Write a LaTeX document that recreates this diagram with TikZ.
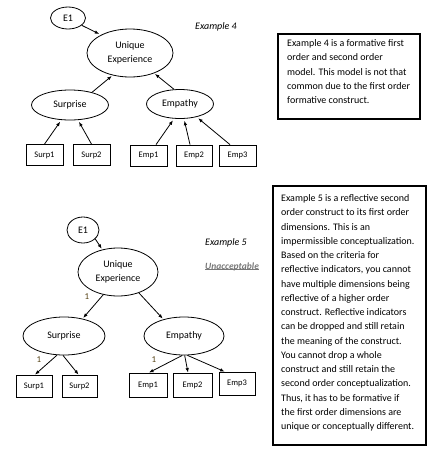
\documentclass[tikz,border=0pt]{standalone}
\usepackage{fontspec}
\setmainfont{Carlito}
\usetikzlibrary{arrows.meta,shapes.geometric,calc}
\definecolor{labcol}{RGB}{85,65,20}
\definecolor{grayt}{RGB}{120,120,120}
\tikzset{
  lat/.style={draw, ellipse, line width=0.8pt, inner sep=0pt, align=center, font=\fontsize{10}{13.5}\selectfont},
  ind/.style={draw, rectangle, line width=0.8pt, inner sep=0pt, font=\fontsize{8.5}{10}\selectfont},
  arr/.style={line width=0.8pt, -{Latex[length=4.5pt,width=3.5pt]}},
  onelab/.style={font=\fontsize{9}{10}\selectfont, text=labcol, inner sep=0pt},
  exlab/.style={font=\fontsize{10}{12}\selectfont\itshape, inner sep=0pt, anchor=west},
  textbox/.style={draw, line width=1.3pt, inner sep=0pt},
  boxtext/.style={anchor=north west, inner sep=0pt, align=left, font=\fontsize{10}{14.3}\selectfont},
}
\begin{document}
\begin{tikzpicture}[x=1pt,y=-1pt]
\useasboundingbox (0,0) rectangle (438,451);
% ---------- Example 4 ----------
\node[lat, minimum width=35pt, minimum height=22pt] (e1a) at (68,18) {E1};
\node[lat, minimum width=86pt, minimum height=48pt] (ua) at (130,53) {Unique\\Experience};
\node[lat, minimum width=77pt, minimum height=30pt] (sa) at (70,105) {Surprise};
\node[lat, minimum width=67pt, minimum height=29pt] (ea) at (180,104) {Empathy};
\node[ind, minimum width=37pt, minimum height=21pt] (s1a) at (44.5,155) {Surp1};
\node[ind, minimum width=37pt, minimum height=21pt] (s2a) at (91.5,155) {Surp2};
\node[ind, minimum width=37pt, minimum height=21pt] (m1a) at (148.5,155.5) {Emp1};
\node[ind, minimum width=36pt, minimum height=21pt] (m2a) at (194,155.5) {Emp2};
\node[ind, minimum width=37pt, minimum height=21pt] (m3a) at (237.5,155.5) {Emp3};
\draw[arr, shorten >=2pt] (e1a.-28) -- (ua.148);
\draw[arr, shorten >=1pt] (sa.30) -- (ua.-128);
\draw[arr, shorten >=1pt] (ea.112) -- (ua.-40);
\draw[arr, shorten >=2pt] (s1a.north) -- (sa.-120);
\draw[arr, shorten >=2pt] (s2a.north) -- (sa.-62);
\draw[arr, shorten >=2pt] ($(m1a.north)+(7.5,0)$) -- (ea.-112);
\draw[arr, shorten >=2pt] ($(m2a.north)+(-4,0)$) -- (ea.-75);
\draw[arr, shorten >=2pt] ($(m3a.north)+(-7.5,0)$) -- (ea.-38);
\node[exlab] (ex4) at (195,27) {Example 4};
\node[textbox, minimum width=142pt, minimum height=85pt] (tb1) at (349,76.5) {};
\node[boxtext] (tx1) at (287,39.5) {Example 4 is a formative first\\order and second order\\model. This model is not that\\common due to the first order\\formative construct.};
% ---------- Example 5 ----------
\node[lat, minimum width=32pt, minimum height=26pt] (e1b) at (83,230) {E1};
\node[lat, minimum width=80pt, minimum height=48pt] (ub) at (118,272) {Unique\\Experience};
\node[lat, minimum width=82pt, minimum height=38pt] (sb) at (64,336) {Surprise};
\node[lat, minimum width=80pt, minimum height=38pt] (eb) at (184,336) {Empathy};
\node[ind, minimum width=36pt, minimum height=22pt] (s1b) at (34,386) {Surp1};
\node[ind, minimum width=35pt, minimum height=22pt] (s2b) at (79.5,386) {Surp2};
\node[ind, minimum width=38pt, minimum height=24pt] (m1b) at (148,385) {Emp1};
\node[ind, minimum width=39pt, minimum height=24pt] (m2b) at (192.5,385) {Emp2};
\node[ind, minimum width=36pt, minimum height=23pt] (m3b) at (237,383.5) {Emp3};
\draw[arr, shorten >=1pt] (e1b.-36) -- (ub.125);
\draw[arr, shorten >=1pt] (ub.-123) -- (sb.43);
\draw[arr, shorten >=1pt] (ub.-45) -- (eb.141);
\draw[arr] (sb.-110) -- ($(s1b.north)+(1,0)$);
\draw[arr] (sb.-93) -- ($(s2b.north)+(-1,0)$);
\draw[arr] (eb.-95) -- ($(m1b.north)+(1,0)$);
\draw[arr] (eb.-88) -- ($(m2b.north)+(-4.5,0)$);
\draw[arr] (eb.-80) -- ($(m3b.north west)+(6,0)$);
\node[onelab] (l1) at (87,297) {1};
\node[onelab] (l2) at (39,360) {1};
\node[onelab] (l3) at (154,360) {1};
\node[exlab] (ex5) at (205,243) {Example 5};
\node[exlab, font=\fontsize{9.5}{11}\selectfont\itshape\bfseries, text=grayt] (unac) at (205,267) {Unacceptable};
\draw[grayt, line width=0.6pt] ($(unac.south west)+(0,-1.5)$) -- ($(unac.south east)+(0,-1.5)$);
\node[textbox, minimum width=153pt, minimum height=259pt, line width=1.2pt] (tb2) at (349.5,315.5) {};
\node[boxtext, font=\fontsize{10}{14.25}\selectfont] (tx2) at (281,194.5) {Example 5 is a reflective second\\order construct to its first order\\dimensions. This is an\\impermissible conceptualization.\\Based on the criteria for\\reflective indicators, you cannot\\have multiple dimensions being\\reflective of a higher order\\construct. Reflective indicators\\can be dropped and still retain\\the meaning of the construct.\\You cannot drop a whole\\construct and still retain the\\second order conceptualization.\\Thus, it has to be formative if\\the first order dimensions are\\unique or conceptually different.};
\end{tikzpicture}
\end{document}
